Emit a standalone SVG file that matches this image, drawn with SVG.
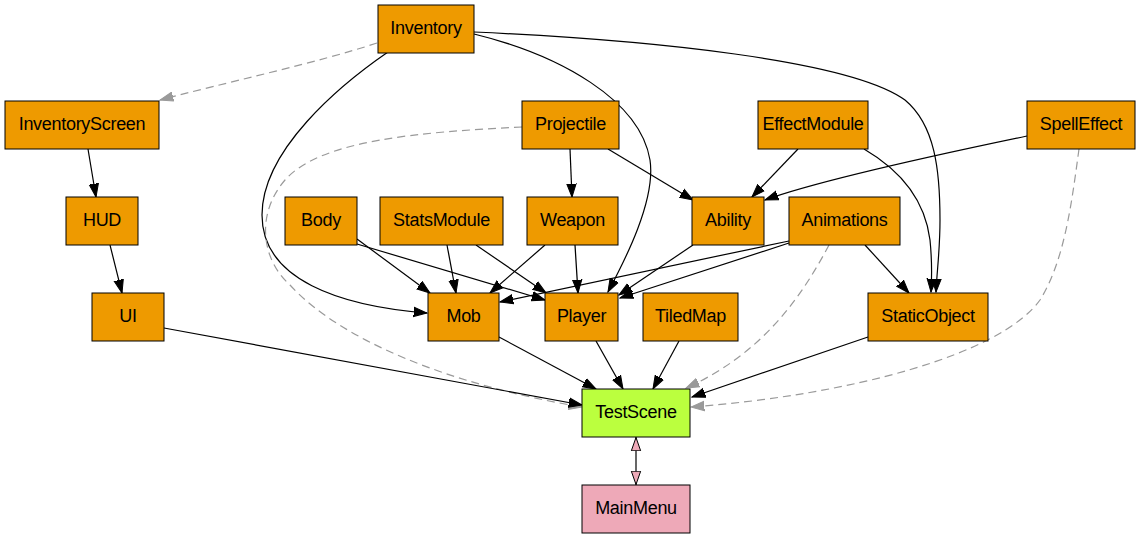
<svg xmlns="http://www.w3.org/2000/svg" width="1140" height="539" viewBox="0 0 1140 539">
<style>
.n rect{fill:#EE9A00;stroke:#000;stroke-width:1}
.n text{font-family:"Liberation Sans",Arial,sans-serif;font-size:18px;letter-spacing:-0.3px;text-anchor:middle;fill:#000}
.e{fill:none;stroke:#000;stroke-width:1.2;marker-end:url(#ab)}
.d{fill:none;stroke:#9a9a9a;stroke-width:1.2;stroke-dasharray:8,5;marker-end:url(#ag)}
</style>
<defs>
<marker id="ab" markerUnits="userSpaceOnUse" viewBox="0 -6 14 12" markerWidth="14" markerHeight="12" refX="13.3" refY="0" orient="auto"><path d="M0,-4.67 L13.33,0 L0,4.67 z" fill="#000" stroke="#000" stroke-width="1"/></marker>
<marker id="ag" markerUnits="userSpaceOnUse" viewBox="0 -6 14 12" markerWidth="14" markerHeight="12" refX="13.3" refY="0" orient="auto"><path d="M0,-4.67 L13.33,0 L0,4.67 z" fill="#9a9a9a" stroke="#9a9a9a" stroke-width="1"/></marker>
<marker id="ap" markerUnits="userSpaceOnUse" viewBox="0 -6 15 12" markerWidth="15" markerHeight="12" refX="13.8" refY="0" orient="auto-start-reverse"><path d="M0,-4.67 L13.33,0 L0,4.67 z" fill="#EEA9B8" stroke="#000" stroke-width="1"/></marker>
</defs>
<rect width="1140" height="539" fill="#fff"/>
<g id="connectors">
<path class="d" d="M377,43 C320,62 220,84 160,100"/>
<path class="e" d="M388,52 C340,85 262,150 262,215 C262,280 340,306 427,313"/>
<path class="e" d="M474,34 C560,55 640,100 650,160 C656,200 625,260 608,292"/>
<path class="e" d="M474,32 C650,40 850,60 905,100 C935,125 940,170 940,220 C940,250 937,270 936,292"/>
<path class="e" d="M864,149 C900,170 925,200 930,240 C932,260 932,275 931,292"/>
<path class="d" d="M522,127 C420,132 320,140 285,180 C255,215 262,260 290,285 C340,340 450,385 582,407"/>
<path class="d" d="M1079,149 C1072,200 1065,260 1040,300 C1000,355 850,395 691,407"/>
<path class="d" d="M829,245 C800,300 760,355 686,388"/>
<path class="e" d="M868,337 L692,397"/>
<path class="e" d="M679,341 L653,389"/>
<path class="e" d="M596,341 L623,389"/>
<path class="e" d="M499,337 L596,389"/>
<path class="e" d="M164,328 L582,405"/>
<path class="e" d="M88,149 L96,197"/>
<path class="e" d="M110,245 L122,293"/>
<path class="e" d="M570,149 L572,197"/>
<path class="e" d="M608,149 L693,200"/>
<path class="e" d="M798,149 L752,197"/>
<path class="e" d="M1027,136 C950,152 820,180 765,200"/>
<path class="e" d="M357,239 L430,293"/>
<path class="e" d="M357,244 L545,300"/>
<path class="e" d="M447,245 L456,293"/>
<path class="e" d="M476,245 L546,293"/>
<path class="e" d="M545,245 L490,293"/>
<path class="e" d="M575,245 L578,293"/>
<path class="e" d="M693,245 L619,295"/>
<path class="e" d="M789,243 L620,298"/>
<path class="e" d="M789,241 C700,260 600,280 500,302"/>
<path class="e" d="M865,245 L909,293"/>
<path d="M636,437 L636,485" fill="none" stroke="#000" stroke-width="1.2" marker-start="url(#ap)" marker-end="url(#ap)"/>
</g>
<g id="Inventory" class="n"><rect x="378" y="5" width="96" height="48"/><text x="426" y="34">Inventory</text></g>
<g id="InventoryScreen" class="n"><rect x="5" y="101" width="154" height="48"/><text x="82" y="130">InventoryScreen</text></g>
<g id="Projectile" class="n"><rect x="522" y="101" width="97" height="48"/><text x="570.5" y="130">Projectile</text></g>
<g id="EffectModule" class="n"><rect x="758" y="101" width="110" height="48"/><text x="813" y="130">EffectModule</text></g>
<g id="SpellEffect" class="n"><rect x="1027" y="101" width="108" height="48"/><text x="1081" y="130">SpellEffect</text></g>
<g id="HUD" class="n"><rect x="66" y="197" width="72" height="48"/><text x="102" y="226">HUD</text></g>
<g id="Body" class="n"><rect x="285" y="197" width="72" height="48"/><text x="321" y="226">Body</text></g>
<g id="StatsModule" class="n"><rect x="380" y="197" width="123" height="48"/><text x="441.5" y="226">StatsModule</text></g>
<g id="Weapon" class="n"><rect x="527" y="197" width="91" height="48"/><text x="572.5" y="226">Weapon</text></g>
<g id="Ability" class="n"><rect x="692" y="197" width="72" height="48"/><text x="728" y="226">Ability</text></g>
<g id="Animations" class="n"><rect x="789" y="197" width="111" height="48"/><text x="844.5" y="226">Animations</text></g>
<g id="UI" class="n"><rect x="92" y="293" width="72" height="48"/><text x="128" y="322">UI</text></g>
<g id="Mob" class="n"><rect x="428" y="293" width="71" height="48"/><text x="463.5" y="322">Mob</text></g>
<g id="Player" class="n"><rect x="545" y="293" width="73" height="48"/><text x="581.5" y="322">Player</text></g>
<g id="TiledMap" class="n"><rect x="643" y="293" width="95" height="48"/><text x="690.5" y="322">TiledMap</text></g>
<g id="StaticObject" class="n"><rect x="868" y="293" width="120" height="48"/><text x="928" y="322">StaticObject</text></g>
<g id="TestScene" class="n"><rect x="582" y="389" width="108" height="48" style="fill:#BBFF3E"/><text x="636" y="418">TestScene</text></g>
<g id="MainMenu" class="n"><rect x="582" y="485" width="108" height="48" style="fill:#EEA9B8"/><text x="636" y="514">MainMenu</text></g>
</svg>
